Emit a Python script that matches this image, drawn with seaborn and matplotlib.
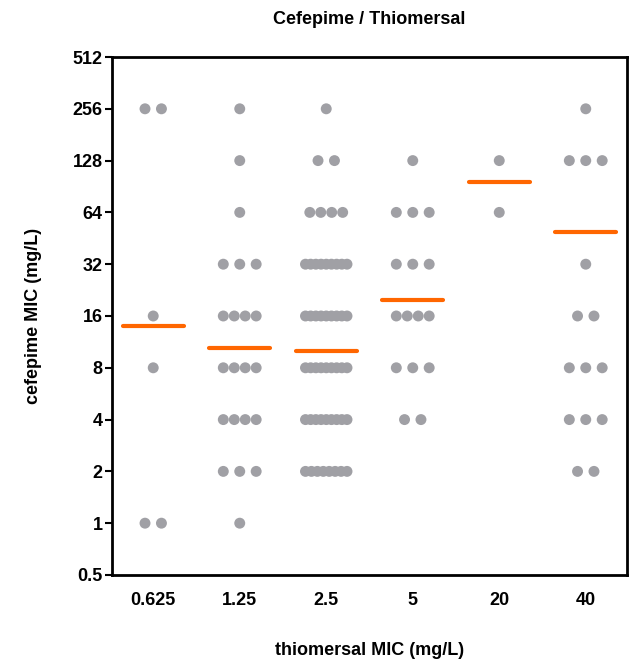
"""Cefepime / Thiomersal MIC scatter"""

import numpy as np
import pandas as pd
import seaborn as sns
import matplotlib.pyplot as plt

# thiomersal MIC groups (mg/L) and the cefepime MICs in each group
groups = ['0.625', '1.25', '2.5', '5', '20', '40']
mic_0625 = [256, 256, 16, 8, 1, 1]
mic_125 = [256, 128, 64] + [32] * 3 + [16] * 4 + [8] * 4 + [4] * 4 + [2] * 3 + [1]
mic_25 = [256] + [128] * 2 + [64] * 4 + [32] * 9 + [16] * 9 + [8] * 9 + [4] * 9 + [2] * 8
mic_5 = [128] + [64] * 3 + [32] * 3 + [16] * 4 + [8] * 3 + [4] * 2
mic_20 = [128, 64]
mic_40 = [256] + [128] * 3 + [32] + [16] * 2 + [8] * 3 + [4] * 3 + [2] * 2
# orange bar value per group
bar_values = [14.0, 10.4, 9.95, 19.7, 95.7, 49.4]

y_ticks = [0.5, 1, 2, 4, 8, 16, 32, 64, 128, 256, 512]
y_labels = ['0.5', '1', '2', '4', '8', '16', '32', '64', '128', '256', '512']

all_mics = [mic_0625, mic_125, mic_25, mic_5, mic_20, mic_40]


def spread(n):
    # horizontal spread of identical values, like the prism column scatter
    if n == 1:
        return np.zeros(1)
    w = min((n - 1) * 0.19, 0.38 if n <= 4 else 0.48)
    return np.linspace(-w / 2, w / 2, n)


rows = []
for i, (grp, vals) in enumerate(zip(groups, all_mics)):
    for v in sorted(set(vals), reverse=True):
        n = vals.count(v)
        for off in spread(n):
            rows.append({'group': grp, 'pos': i + off, 'mic': v})
df = pd.DataFrame(rows)

sns.set_style('white')
plt.rcParams['font.family'] = ['Liberation Sans', 'DejaVu Sans']
plt.rcParams['font.weight'] = 'bold'
plt.rcParams['text.color'] = 'black'
plt.rcParams['axes.labelcolor'] = 'black'
plt.rcParams['xtick.color'] = 'black'
plt.rcParams['ytick.color'] = 'black'

fig = plt.figure(figsize=(6.3, 6.59), dpi=100)
ax = fig.add_axes([0.178, 0.1275, 0.817, 0.786])

sns.scatterplot(data=df, x='pos', y='mic', color='#A0A0A5', s=62, edgecolor='none',
                ax=ax, zorder=3)
ax.hlines(bar_values, np.arange(len(groups)) - 0.35, np.arange(len(groups)) + 0.35,
          color='#FF6600', linewidth=3, capstyle='round', zorder=4)

ax.set_yscale('log', base=2)
ax.set_ylim(0.5, 512)
ax.set_yticks(y_ticks)
ax.set_yticklabels(y_labels)
ax.minorticks_off()
ax.set_xlim(-0.475, len(groups) - 0.525)
ax.set_xticks(range(len(groups)))
ax.set_xticklabels(groups)

for sp in ax.spines.values():
    sp.set_visible(True)
    sp.set_color('black')
    sp.set_linewidth(2)
ax.tick_params(axis='y', direction='out', length=5, width=1.5, left=True,
               labelsize=13, pad=2, colors='black')
ax.tick_params(axis='x', direction='out', length=0, bottom=False,
               labelsize=13, pad=12, colors='black')
for lab in ax.get_xticklabels() + ax.get_yticklabels():
    lab.set_fontweight('bold')

ax.set_xlabel('thiomersal MIC (mg/L)', fontsize=13, fontweight='bold', labelpad=24,
              color='black')
ax.set_ylabel('cefepime MIC (mg/L)', fontsize=13, fontweight='bold', labelpad=22,
              color='black')
ax.set_title('Cefepime / Thiomersal', fontsize=13, fontweight='bold', pad=24,
             color='black')

fig.savefig('out.png', dpi=100)
